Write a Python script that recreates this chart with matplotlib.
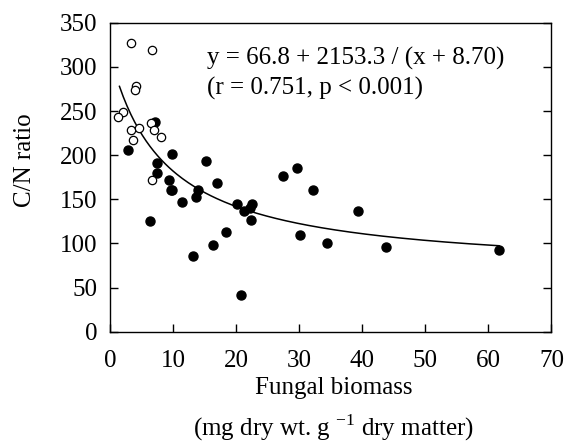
import numpy as np
import matplotlib
matplotlib.use('Agg')
import matplotlib.pyplot as plt

plt.rcParams['font.family'] = ['Liberation Serif', 'DejaVu Serif']
plt.rcParams['mathtext.fontset'] = 'custom'
plt.rcParams['mathtext.rm'] = 'Liberation Serif'

# open circles (low biomass samples)
open_x = [3.4, 6.7, 4.1, 3.9, 2.1, 1.3, 3.3, 4.6, 6.5, 7.0, 8.1, 3.7, 6.6]
open_y = [327, 319, 278, 274, 249, 243, 229, 231, 236, 228, 221, 217, 172]

# filled circles
filled_x = [7.2, 2.8, 9.9, 15.2, 7.4, 7.4, 9.3, 9.6, 9.9, 11.4, 6.3, 14.0,
            13.7, 16.9, 20.1, 21.3, 22.5, 22.2, 22.4, 18.4, 16.3, 13.1, 20.7,
            27.5, 29.6, 32.2, 30.1, 34.4, 39.4, 43.8, 61.7]
filled_y = [238, 206, 201, 193, 191, 180, 172, 160, 161, 147, 125, 160,
            153, 168, 145, 137, 145, 140, 126, 113, 98, 86, 42,
            176, 185, 161, 109, 101, 137, 96, 93]

# fitted curve y = a + b / (x + c)
a, b, c = 66.8, 2153.3, 8.70
fit_x = np.linspace(1.5, 61.7, 200)
fit_y = a + b / (fit_x + c)

fig = plt.figure(figsize=(5.65, 4.42), dpi=100)
ax = fig.add_axes([0.1947, 0.2495, 0.7813, 0.6991])

ax.plot(fit_x, fit_y, color='black', linewidth=1.1, zorder=1)
ax.plot(filled_x, filled_y, 'o', color='black', markersize=6.5, zorder=2)
ax.plot(open_x, open_y, 'o', markerfacecolor='white', markeredgecolor='black',
        markeredgewidth=0.9, markersize=6, zorder=3)

ax.set_xlim(0, 70)
ax.set_ylim(0, 350)
ax.set_xticks(range(0, 71, 10))
ax.set_yticks(range(0, 351, 50))
ax.tick_params(direction='in', length=6, width=1, labelsize=18, right=True)
ax.tick_params(axis='y', pad=9)
ax.tick_params(axis='x', pad=13)
for s in ax.spines.values():
    s.set_linewidth(1)

ax.text(15.4, 310, 'y = 66.8 + 2153.3 / (x + 8.70)', fontsize=18, va='center')
ax.text(15.4, 276, '(r = 0.751, p < 0.001)', fontsize=18, va='center')

fig.text(0.044, 0.638, 'C/N ratio', fontsize=18, rotation=90, ha='center', va='center')
fig.text(0.59, 0.122, 'Fungal biomass', fontsize=18, ha='center', va='center')
fig.text(0.59, 0.032, r'(mg dry wt. g $^{-1}$ dry matter)', fontsize=18,
         ha='center', va='center')

plt.savefig('out.png', dpi=100)
plt.close()
